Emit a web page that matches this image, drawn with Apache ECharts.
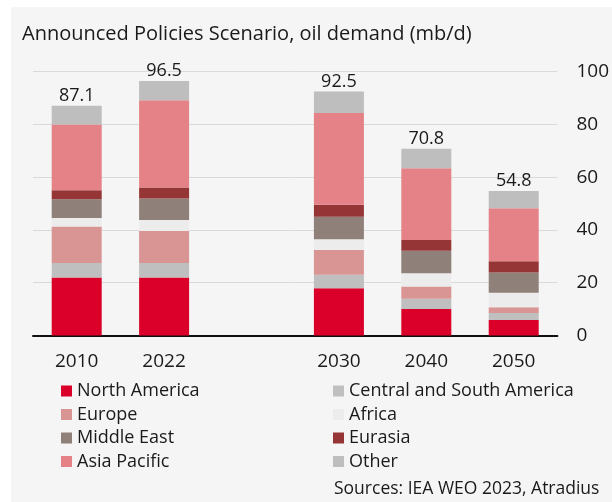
<!DOCTYPE html>
<html>
<head>
<meta charset="utf-8">
<script src="https://cdn.jsdelivr.net/npm/echarts@6/dist/echarts.min.js"></script>
<style>
html,body{margin:0;padding:0;background:#fff;}
#c{width:612px;height:502px;}
</style>
</head>
<body>
<div id="c"></div>
<script>
var categories = ['2010', '2022', '', '2030', '2040', '2050'];
var northAmerica = [22.0, 22.0, '-', 17.9, 10.0, 5.8];
var centralSouthAmerica = [5.5, 5.5, '-', 5.1, 3.9, 2.7];
var europe = [13.8, 12.1, '-', 9.4, 4.6, 2.2];
var africa = [3.2, 4.2, '-', 4.1, 5.1, 5.5];
var middleEast = [7.1, 8.1, '-', 8.5, 8.5, 7.7];
var eurasia = [3.4, 4.2, '-', 4.5, 4.1, 4.2];
var asiaPacific = [25.0, 33.1, '-', 34.8, 27.2, 20.1];
var other = [7.1, 7.3, '-', 8.2, 7.4, 6.6];
var totals = ['87.1', '96.5', '', '92.5', '70.8', '54.8'];
var yTicks = [0, 20, 40, 60, 80, 100];

var FONT = 'Open Sans';
var chart = echarts.init(document.getElementById('c'));

function s(name, data, color, extra) {
  var o = {
    name: name, type: 'bar', stack: 'total', data: data,
    barWidth: 50, itemStyle: { color: color }, emphasis: { disabled: true }
  };
  if (extra) for (var k in extra) o[k] = extra[k];
  return o;
}

var legendText = { fontSize: 18, color: '#1a1a1a', fontFamily: FONT };

var option = {
  animation: false,
  backgroundColor: '#ffffff',
  textStyle: { fontFamily: FONT },
  graphic: [
    { type: 'rect', z: -10, silent: true, shape: { x: 11, y: 7, width: 601, height: 495 }, style: { fill: '#f5f5f5' } },
    { type: 'text', left: 22, top: 24, silent: true,
      style: { text: 'Announced Policies Scenario, oil demand (mb/d)', font: '20px "' + FONT + '"', fill: '#1a1a1a' } },
    { type: 'text', left: 334, top: 480, silent: true,
      style: { text: 'Sources: IEA WEO 2023, Atradius', font: '17.5px "' + FONT + '"', fill: '#1a1a1a' } }
  ],
  legend: [
    { left: 61, top: 382, padding: 0, orient: 'vertical', itemWidth: 11, itemHeight: 11, itemGap: 5.5, icon: 'rect',
      textStyle: legendText,
      data: ['North America', 'Europe', 'Middle East', 'Asia Pacific'] },
    { left: 333, top: 382, padding: 0, orient: 'vertical', itemWidth: 11, itemHeight: 11, itemGap: 5.5, icon: 'rect',
      textStyle: legendText,
      data: ['Central and South America', 'Africa', 'Eurasia', 'Other'] }
  ],
  grid: { left: 33, right: 54, top: 71.7, bottom: 166.6, containLabel: false },
  xAxis: {
    type: 'category', data: categories,
    axisLine: { lineStyle: { color: '#111', width: 2 } },
    axisTick: { show: false },
    axisLabel: { fontSize: 19, color: '#1a1a1a', margin: 17, fontFamily: FONT, interval: 0 }
  },
  yAxis: {
    type: 'value', position: 'right', min: yTicks[0], max: yTicks[yTicks.length - 1], interval: 20,
    axisLine: { show: false }, axisTick: { show: false },
    splitLine: { lineStyle: { color: '#d9d9d9', width: 1 } },
    axisLabel: { fontSize: 19, color: '#1a1a1a', margin: 19, align: 'left', fontFamily: FONT }
  },
  series: [
    s('North America', northAmerica, '#db0029'),
    s('Central and South America', centralSouthAmerica, '#bfbfbf'),
    s('Europe', europe, '#d99594'),
    s('Africa', africa, '#ececec'),
    s('Middle East', middleEast, '#8f8079'),
    s('Eurasia', eurasia, '#953535'),
    s('Asia Pacific', asiaPacific, '#e58287'),
    s('Other', other, '#bebebe', {
      label: { show: true, position: 'top', distance: 1, fontSize: 18, color: '#1a1a1a', fontFamily: FONT,
        formatter: function (p) { return totals[p.dataIndex]; } }
    })
  ]
};
chart.setOption(option);
</script>
</body>
</html>
